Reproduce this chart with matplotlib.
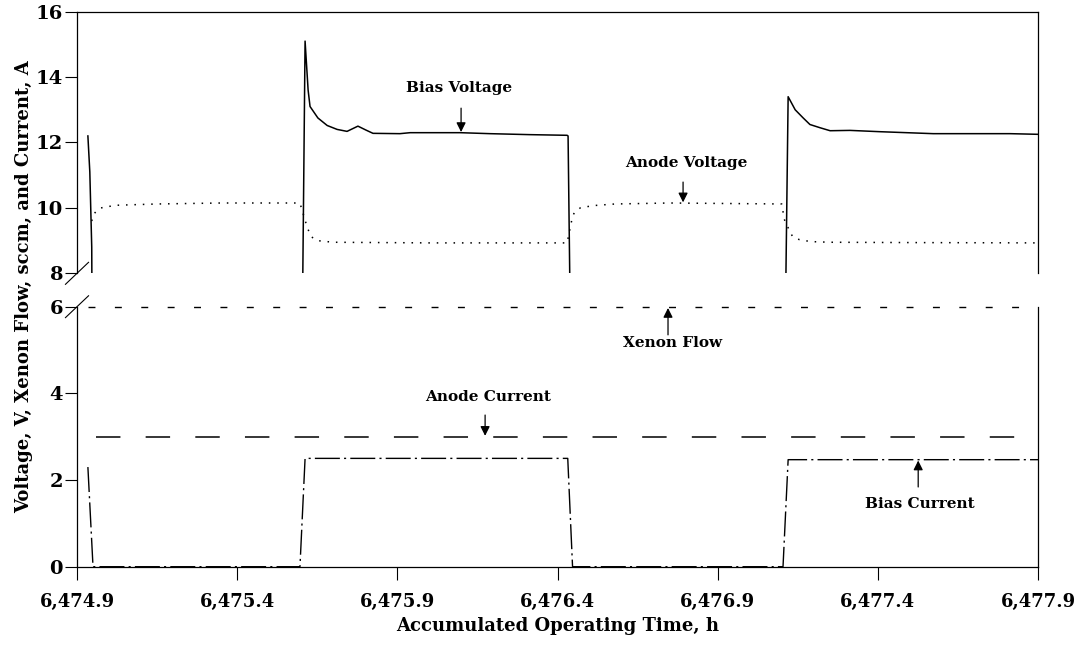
import numpy as np
import matplotlib
matplotlib.use("Agg")
import matplotlib.pyplot as plt
from matplotlib.ticker import FuncFormatter

plt.rcParams['font.family'] = 'DejaVu Serif'

# accumulated operating time, h
bias_v_time = [6474.934, 6474.940, 6474.946, 6474.950,
               6475.597, 6475.612, 6475.6215, 6475.6275, 6475.652, 6475.681, 6475.712,
               6475.743, 6475.777, 6475.802, 6475.824, 6475.908, 6475.94, 6476.096,
               6476.189, 6476.314, 6476.430, 6476.433, 6476.448,
               6477.103, 6477.120, 6477.142, 6477.167, 6477.188, 6477.220, 6477.251,
               6477.313, 6477.407, 6477.573, 6477.719, 6477.813, 6477.900]
bias_voltage = [12.2, 11.1, 8.8, 0.0,
                0.0, 15.1, 13.6, 13.1, 12.75, 12.52, 12.4,
                12.34, 12.5, 12.38, 12.28, 12.27, 12.3, 12.3,
                12.27, 12.24, 12.22, 12.2, 0.0,
                0.0, 13.4, 13.0, 12.75, 12.55, 12.45, 12.36,
                12.37, 12.33, 12.27, 12.27, 12.27, 12.25]

anode_v_time = [6474.946, 6474.952, 6474.960, 6474.975, 6475.02, 6475.15, 6475.35, 6475.595,
                6475.601, 6475.611, 6475.621, 6475.631, 6475.65, 6475.70, 6476.0, 6476.43,
                6476.445, 6476.452, 6476.471, 6476.511, 6476.58, 6476.75, 6477.10,
                6477.108, 6477.122, 6477.134, 6477.155, 6477.19, 6477.25, 6477.5, 6477.9]
anode_voltage = [9.6, 9.8, 9.9, 10.0, 10.08, 10.12, 10.15, 10.15,
                 10.0, 9.65, 9.35, 9.12, 9.0, 8.95, 8.93, 8.93,
                 9.65, 9.85, 10.0, 10.07, 10.12, 10.15, 10.12,
                 9.65, 9.35, 9.12, 9.03, 8.97, 8.95, 8.94, 8.93]

xenon_time = [6474.934, 6477.9]
xenon_flow = [6.0, 6.0]

anode_i_time = [6474.96, 6477.9]
anode_current = [3.0, 3.0]

bias_i_time = [6474.934, 6474.950, 6475.596, 6475.612, 6476.432, 6476.447,
               6477.104, 6477.120, 6477.9]
bias_current = [2.3, 0.0, 0.0, 2.5, 2.5, 0.0, 0.0, 2.47, 2.47]

x_ticks = [6474.9, 6475.4, 6475.9, 6476.4, 6476.9, 6477.4, 6477.9]

fig = plt.figure(figsize=(10.85, 6.52), dpi=100)
left, width = 77 / 1085, 961 / 1085
ax_top = fig.add_axes([left, 0.5808, width, 0.4013])
ax_bot = fig.add_axes([left, 0.1308, width, 0.3988])

ax_top.plot(bias_v_time, bias_voltage, color='black', lw=1.1)
ax_top.plot(anode_v_time, anode_voltage, color='black', lw=1.1, dashes=(1, 4.5))

ax_bot.plot(xenon_time, xenon_flow, color='black', lw=1, dashes=(5, 14), clip_on=False)
ax_bot.plot(anode_i_time, anode_current, color='black', lw=1.1, dashes=(16, 16.5), clip_on=False)
ax_bot.plot(bias_i_time, bias_current, color='black', lw=1, dashes=(18, 3, 1.5, 3), clip_on=False)

for ax in (ax_top, ax_bot):
    ax.set_xlim(x_ticks[0], x_ticks[-1])
    ax.tick_params(direction='out', length=9, width=0.8, labelsize=14, pad=1)
    for s in ax.spines.values():
        s.set_linewidth(0.9)
    for t in ax.get_yticklabels():
        t.set_fontweight('bold')

ax_top.set_ylim(8, 16)
ax_top.set_yticks([8, 10, 12, 14, 16])
ax_top.set_yticklabels(['8', '10', '12', '14', '16'], fontweight='bold')
ax_top.spines['bottom'].set_visible(False)
ax_top.tick_params(axis='x', which='both', bottom=False, labelbottom=False)

ax_bot.set_ylim(0, 6)
ax_bot.set_yticks([0, 2, 4, 6])
ax_bot.set_yticklabels(['0', '2', '4', '6'], fontweight='bold')
ax_bot.spines['top'].set_visible(False)
ax_bot.set_xticks(x_ticks)
ax_bot.set_xticklabels([f"{v:,.1f}" for v in x_ticks], fontweight='bold')
ax_bot.tick_params(axis='x', labelsize=13, pad=10)
ax_bot.set_xlabel('Accumulated Operating Time, h', fontsize=13, fontweight='bold', labelpad=4)

fig.text(0.022, 0.561, 'Voltage, V, Xenon Flow, sccm, and Current, A', rotation=90,
         fontsize=13, fontweight='bold', ha='center', va='center')

# axis break marks
d = 0.042
ax_top.plot([-0.012, 0.012], [-d, d], transform=ax_top.transAxes, color='black', lw=0.8, clip_on=False)
ax_bot.plot([-0.012, 0.012], [1 - d, 1 + d], transform=ax_bot.transAxes, color='black', lw=0.8, clip_on=False)

arrow = dict(arrowstyle='-|>', color='black', lw=0.9, mutation_scale=14, shrinkA=0, shrinkB=0)
lab = dict(fontsize=11, fontweight='bold', ha='center', va='center')

ax_top.text(6476.093, 13.66, 'Bias Voltage', **lab)
ax_top.annotate('', xy=(6476.099, 12.32), xytext=(6476.099, 13.05), arrowprops=arrow)
ax_top.text(6476.801, 11.37, 'Anode Voltage', **lab)
ax_top.annotate('', xy=(6476.792, 10.17), xytext=(6476.792, 10.79), arrowprops=arrow)

ax_bot.text(6476.758, 5.16, 'Xenon Flow', **lab)
ax_bot.annotate('', xy=(6476.745, 5.97), xytext=(6476.745, 5.35), arrowprops=arrow)
ax_bot.text(6476.183, 3.92, 'Anode Current', **lab)
ax_bot.annotate('', xy=(6476.174, 3.02), xytext=(6476.174, 3.50), arrowprops=arrow)
ax_bot.text(6477.532, 1.45, 'Bias Current', **lab)
ax_bot.annotate('', xy=(6477.526, 2.45), xytext=(6477.526, 1.84), arrowprops=arrow)

fig.savefig('out.png', dpi=100)
